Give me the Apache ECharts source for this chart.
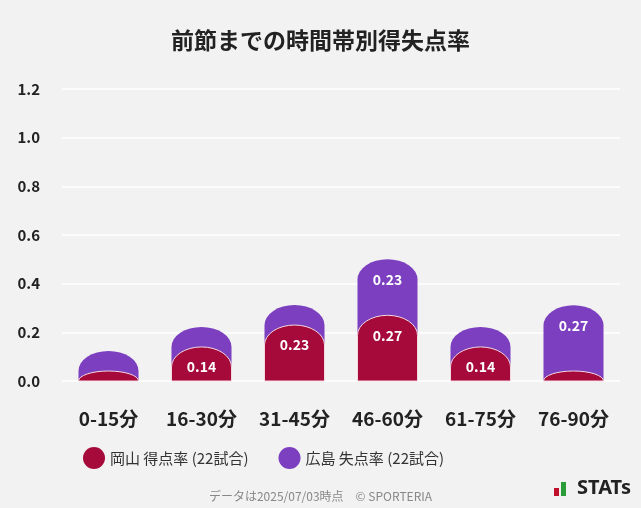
<!DOCTYPE html>
<html><head><meta charset="utf-8">
<script src="https://cdn.jsdelivr.net/npm/echarts@6/dist/echarts.min.js"></script>
<style>html,body{margin:0;background:#f2f2f2}#app{width:641px;height:508px}</style>
</head><body><div id="app"></div>
<script>
var categories = ['0-15分', '16-30分', '31-45分', '46-60分', '61-75分', '76-90分'];
var okayamaScored = [0, 0.14, 0.23, 0.27, 0.14, 0];
var hiroshimaConceded = [0, 0, 0, 0.23, 0, 0.27];
var RED = '#a50a3a', PURPLE = '#7b3fbf';

var chart = echarts.init(document.getElementById('app'));

// capsule-like bar: rounded top, red segment at bottom, purple stacked above
function dome(x, w, y0, top) {
    var ry = Math.min(20, y0 - top);
    return 'M' + x + ' ' + y0 + ' L' + x + ' ' + (top + ry) +
        ' A' + (w / 2) + ' ' + ry + ' 0 0 1 ' + (x + w) + ' ' + (top + ry) +
        ' L' + (x + w) + ' ' + y0 + ' Z';
}
function renderItem(params, api) {
    var i = api.value(0);
    var red = api.value(1), pur = api.value(2);
    var base = api.coord([i, 0]);
    var y0 = base[1], w = 60, x = base[0] - w / 2;
    var redTop = Math.min(api.coord([i, red])[1], y0 - 10);
    var purH = Math.max(api.size([0, pur])[1], 20);
    var purTop = redTop - purH;
    var kids = [
        { type: 'path', shape: { pathData: dome(x, w, y0, purTop) }, style: { fill: PURPLE } },
        { type: 'path', shape: { pathData: dome(x, w, y0, redTop) }, style: { fill: RED, stroke: '#f4d8e0', lineWidth: 1 } }
    ];
    var font = 'bold 14px "Noto Sans CJK JP", sans-serif';
    if (red > 0) kids.push({ type: 'text', style: { text: red.toFixed(2), x: base[0], y: redTop + 20, fill: '#fff', font: font, align: 'center', verticalAlign: 'middle' } });
    if (pur > 0) kids.push({ type: 'text', style: { text: pur.toFixed(2), x: base[0], y: purTop + 20, fill: '#fff', font: font, align: 'center', verticalAlign: 'middle' } });
    return { type: 'group', children: kids };
}

var seriesData = categories.map(function (c, i) { return [i, okayamaScored[i], hiroshimaConceded[i]]; });

chart.setOption({
    backgroundColor: '#f2f2f2',
    animation: false,
    textStyle: { fontFamily: '"Noto Sans CJK JP", sans-serif' },
    title: {
        text: '前節までの時間帯別得失点率', left: 'center', top: 24,
        textStyle: { fontSize: 23, fontWeight: 'bold', color: '#222' }
    },
    grid: { left: 62, right: 21, top: 89, bottom: 127 },
    xAxis: {
        type: 'category', data: categories,
        axisLine: { show: false }, axisTick: { show: false },
        axisLabel: { fontSize: 19, fontWeight: 'bold', color: '#222', margin: 28 }
    },
    yAxis: {
        type: 'value', min: 0, max: 1.2, interval: 0.2,
        splitLine: { lineStyle: { color: '#ffffff', width: 1.5 } },
        axisLabel: { fontSize: 15, fontWeight: 'bold', color: '#222', margin: 22, align: 'right',
            formatter: function (v) { return v.toFixed(1); } }
    },
    legend: {
        bottom: 34, left: 78, itemGap: 30, icon: 'circle', itemWidth: 22, itemHeight: 22,
        textStyle: { fontSize: 15, color: '#333' },
        data: [{ name: '岡山 得点率 (22試合)', itemStyle: { color: RED } },
               { name: '広島 失点率 (22試合)', itemStyle: { color: PURPLE } }]
    },
    graphic: [
        { type: 'text', left: 'center', bottom: 6, style: { text: 'データは2025/07/03時点　© SPORTERIA', fill: '#888', font: '12px "Noto Sans CJK JP", sans-serif' } },
        { type: 'text', right: 10, bottom: 10, style: { text: 'STATs', fill: '#222', font: 'bold 20px "Noto Sans", sans-serif' } },
        { type: 'rect', right: 82, bottom: 12, shape: { width: 5, height: 8 }, style: { fill: '#c0102c' } },
        { type: 'rect', right: 75, bottom: 12, shape: { width: 5, height: 14 }, style: { fill: '#2a9d3a' } }
    ],
    series: [
        { type: 'bar', name: '岡山 得点率 (22試合)', data: [], itemStyle: { color: RED } },
        { type: 'bar', name: '広島 失点率 (22試合)', data: [], itemStyle: { color: PURPLE } },
        { type: 'custom', renderItem: renderItem, data: seriesData, encode: { x: 0, y: 1 } }
    ]
});
addEventListener('resize', function () { chart.resize(); });
</script>
</body></html>
